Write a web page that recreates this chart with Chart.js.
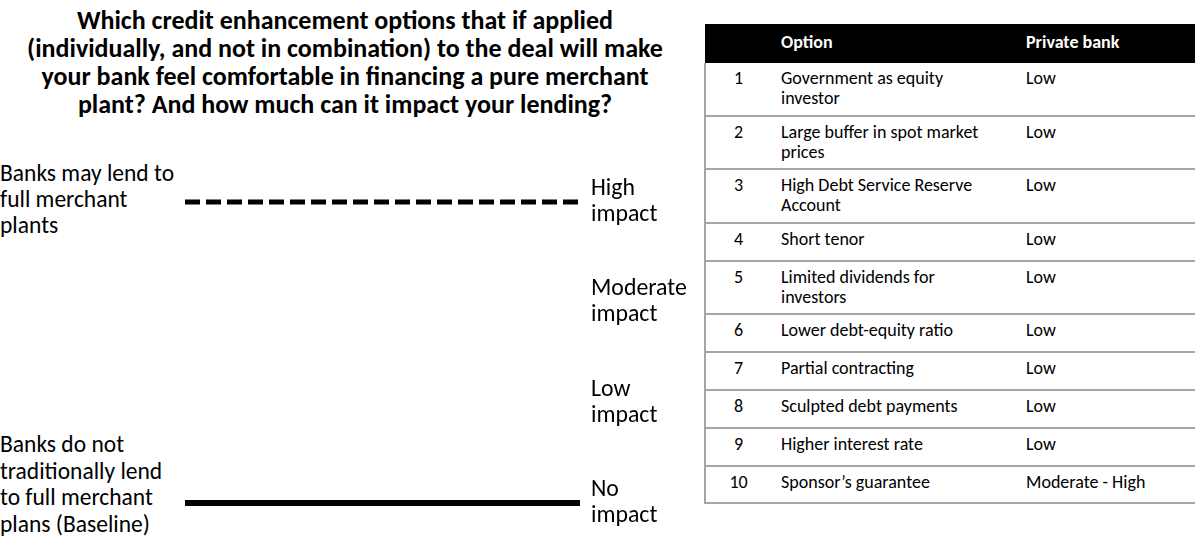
<!DOCTYPE html>
<html>
<head>
<meta charset="utf-8">
<script src="https://cdn.jsdelivr.net/npm/chart.js@4/dist/chart.umd.min.js"></script>
<style>
  html, body { margin: 0; padding: 0; background: #fff; }
  body { font-family: Carlito, Calibri, "Liberation Sans", sans-serif; color: #000; }
  #page { position: relative; width: 1195px; height: 544px; overflow: hidden; }
  #title { position: absolute; left: 0; top: 6px; width: 690px; text-align: center;
           font-weight: bold; font-size: 26px; line-height: 28px; }
  .side { position: absolute; left: 0; font-size: 23.5px; }
  #topSide { top: 160px; line-height: 26px; }
  #bottomSide { top: 431px; line-height: 26.7px; }
  #chartBox { position: absolute; left: 0; top: 0; width: 700px; height: 544px; }
  #tbl { position: absolute; left: 704px; top: 24px; width: 491px; border-collapse: collapse;
         font-size: 18px; line-height: 20px; }
  #tbl th { background: #000; color: #fff; font-weight: bold; text-align: left; height: 36px;
            padding: 0 0 3px 10px; vertical-align: middle; }
  #tbl td { vertical-align: top; padding: 5px 0 0 10px; border-bottom: 2px solid #a6a6a6; }
  #tbl td.num { text-align: center; padding-left: 0; border-left: 2px solid #a6a6a6; }
  #tbl td.opt { padding-right: 25px; }
</style>
</head>
<body>
<div id="page">
  <div id="title">Which credit enhancement options that if applied<br>(individually, and not in combination) to the deal will make<br>your bank feel comfortable in financing a pure merchant<br>plant? And how much can it impact your lending?</div>
  <div class="side" id="topSide">Banks may lend to<br>full merchant<br>plants</div>
  <div class="side" id="bottomSide">Banks do not<br>traditionally lend<br>to full merchant<br>plans (Baseline)</div>
  <div id="chartBox"><canvas id="myChart"></canvas></div>
  <table id="tbl">
    <colgroup><col style="width:66px"><col style="width:245px"><col></colgroup>
    <thead><tr><th></th><th>Option</th><th>Private bank</th></tr></thead>
    <tbody id="tbody"></tbody>
  </table>
</div>
<script>
// impact levels, bottom to top
const impactLevels = [
    ["No", "impact"],
    ["Low", "impact"],
    ["Moderate", "impact"],
    ["High", "impact"],
];

const xLabels = ["", ""];
const merchantLevel = [3, 3];   // banks may lend to full merchant plants
const baselineLevel = [0, 0];   // banks do not traditionally lend (baseline)

// table
const optionNumbers = [1, 2, 3, 4, 5, 6, 7, 8, 9, 10];
const optionNames = [
    "Government as equity investor",
    "Large buffer in spot market prices",
    "High Debt Service Reserve Account",
    "Short tenor",
    "Limited dividends for investors",
    "Lower debt-equity ratio",
    "Partial contracting",
    "Sculpted debt payments",
    "Higher interest rate",
    "Sponsor\u2019s guarantee",
];
const privateBank = ["Low", "Low", "Low", "Low", "Low", "Low", "Low", "Low", "Low", "Moderate - High"];

const rowHeights = [53, 53, 54, 38, 53, 38, 38, 38, 38, 37];
const tbody = document.getElementById("tbody");
optionNumbers.forEach((n, i) => {
    const tr = document.createElement("tr");
    tr.style.height = rowHeights[i] + "px";
    tr.innerHTML = '<td class="num">' + n + '</td><td class="opt">' + optionNames[i] + '</td><td>' + privateBank[i] + '</td>';
    tbody.appendChild(tr);
});

const fontFamily = 'Carlito, Calibri, "Liberation Sans", sans-serif';

const data = {
    labels: xLabels,
    datasets: [
        {
            label: "Full merchant plants",
            data: merchantLevel,
            borderColor: "#000",
            borderWidth: 5,
            borderDash: [15, 6],
            pointRadius: 0,
            clip: false,
        },
        {
            label: "Baseline",
            data: baselineLevel,
            borderColor: "#000",
            borderWidth: 6,
            pointRadius: 0,
            clip: false,
        },
    ],
};

const config = {
    type: "line",
    data: data,
    options: {
        responsive: true,
        maintainAspectRatio: false,
        animation: false,
        layout: { padding: { left: 185, top: 202, bottom: 41, right: 0 } },
        plugins: {
            legend: { display: false },
            tooltip: { enabled: false },
        },
        scales: {
            x: { display: false, offset: false },
            y: {
                position: "right",
                min: 0,
                max: 3,
                afterFit: (scale) => { scale.width = 120; },
                grid: { display: false, drawTicks: false },
                border: { display: false },
                ticks: {
                    stepSize: 1,
                    padding: 11,
                    color: "#000",
                    font: { family: fontFamily, size: 23.8, lineHeight: 1.1 },
                    callback: (value) => impactLevels[value],
                },
            },
        },
    },
};

new Chart(document.getElementById("myChart"), config);
</script>
</body>
</html>
